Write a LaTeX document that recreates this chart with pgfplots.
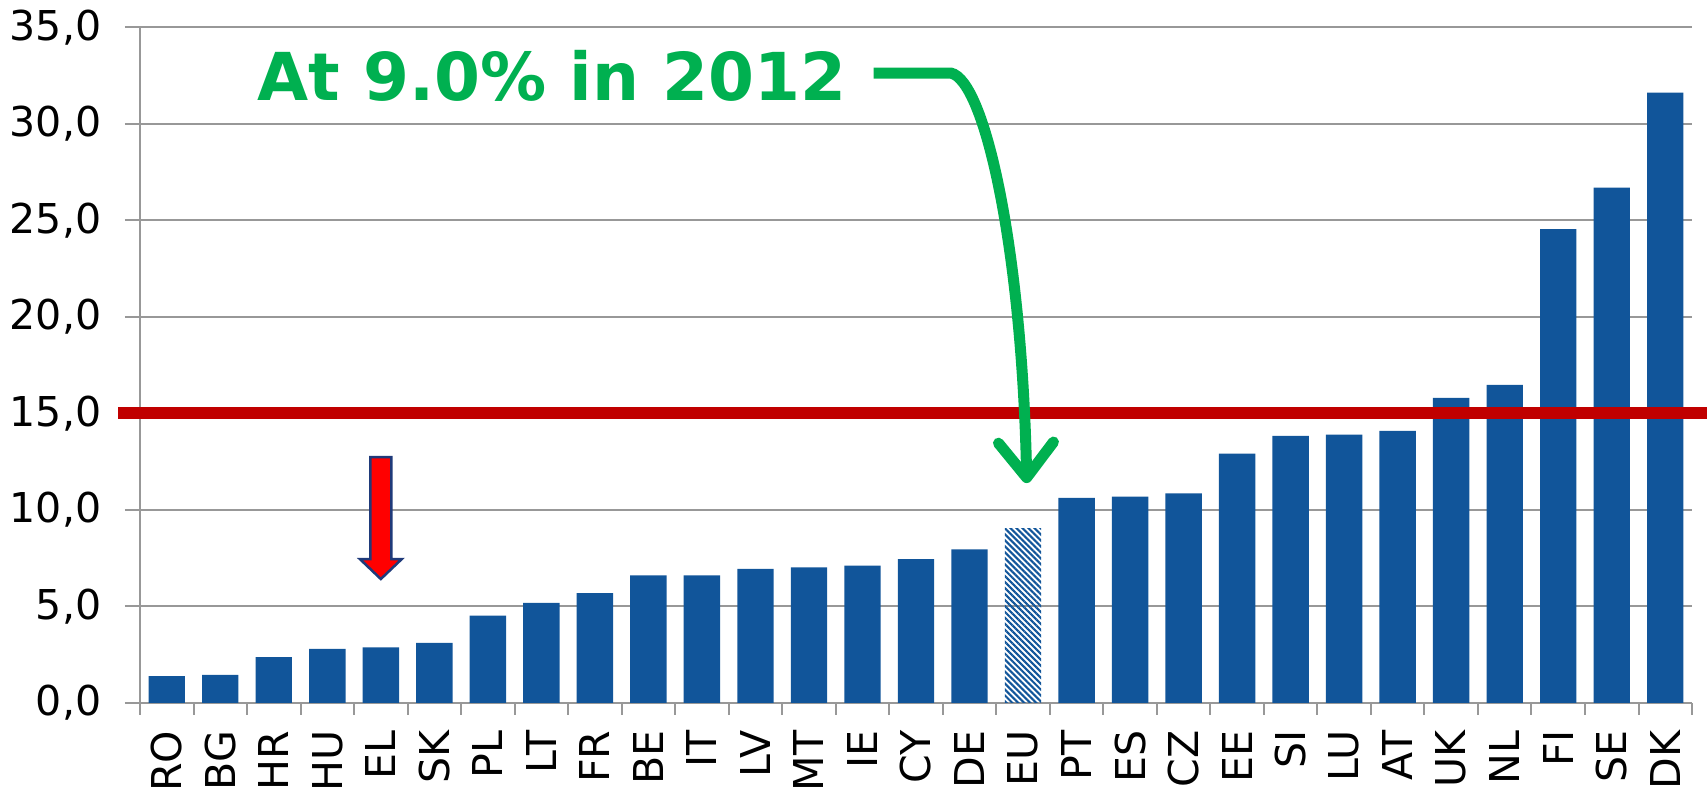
\documentclass[border=0pt]{standalone}
\usepackage{fontspec}
\setmainfont{DejaVu Sans}
\usepackage{pgfplots}
\pgfplotsset{compat=1.18}
\usetikzlibrary{patterns.meta,arrows.meta}

\definecolor{barblue}{HTML}{11559A}
\definecolor{gridgray}{HTML}{989898}
\definecolor{limitred}{HTML}{C00000}
\definecolor{notegreen}{HTML}{00B050}
\definecolor{edgeblue}{HTML}{1F3A7A}

\begin{document}
\begin{tikzpicture}
\begin{axis}[
    scale only axis,
    width=155.2mm, height=67.57mm,
    xmin=-0.5, xmax=28.5,
    ymin=0, ymax=35,
    clip=false,
    axis lines=left,
    axis line style={-, gridgray, line width=0.2mm},
    ytick={0,5,...,35},
    ymajorgrids=true,
    grid style={gridgray, line width=0.2mm},
    xtick={0,...,28},
    xticklabels={RO,BG,HR,HU,EL,SK,PL,LT,FR,BE,IT,LV,MT,IE,CY,DE,EU,PT,ES,CZ,EE,SI,LU,AT,UK,NL,FI,SE,DK},
    minor xtick={-0.5,0.5,...,28.5},
    tick align=outside,
    major x tick style={draw=none},
    major tick length=1.5mm,
    minor tick length=1.2mm,
    tick style={gridgray, line width=0.2mm},
    tick label style={font=\fontsize{11.7}{14}\selectfont, black},
    xticklabel style={rotate=90, anchor=east, inner sep=0pt, xshift=-1.2mm},
    yticklabel style={anchor=east, inner sep=0pt, xshift=-2.3mm},
    /pgf/number format/.cd, fixed, fixed zerofill, precision=1, use comma, assume math mode=true,
]
% countries
\addplot[ybar, bar width=0.68, bar shift=0pt, fill=barblue, draw=none]
    coordinates {
    (0,1.39)(1,1.46)(2,2.38)(3,2.80)(4,2.88)(5,3.11)(6,4.53)(7,5.19)
    (8,5.69)(9,6.61)(10,6.61)(11,6.94)(12,7.03)(13,7.12)(14,7.45)(15,7.95)
    (17,10.63)(18,10.69)(19,10.86)(20,12.92)(21,13.83)(22,13.90)(23,14.10)
    (24,15.81)(25,16.48)(26,24.55)(27,26.70)(28,31.61)
    };
% EU average, hatched
\addplot[ybar, bar width=0.68, bar shift=0pt, draw=none,
    pattern={Lines[angle=-45, distance=1.2pt, line width=0.6pt]}, pattern color=barblue]
    coordinates {(16,9.06)};
% 15% line
\addplot[limitred, line width=1.2mm] coordinates {(-0.91,15)(28.8,15)};

% annotations
\draw[fill=red, draw=edgeblue, line width=0.25mm]
    (3.804,12.73) -- (4.196,12.73) -- (4.196,7.45) -- (4.39,7.45)
    -- (4,6.42) -- (3.61,7.45) -- (3.804,7.45) -- cycle;
\draw[notegreen, line width=1.1mm, -{Straight Barb[length=3.5mm, width=5.5mm, round]}]
    (13.21,32.63) -- (14.65,32.63) .. controls (15.29,32.26) and (15.98,23.46) .. (16.07,11.39);
\node[notegreen, font=\fontsize{18.8}{22}\selectfont\bfseries, anchor=base]
    at (7.20,31.23) {At 9.0\% in 2012};
\end{axis}
\pgfresetboundingbox
\path[use as bounding box] ([xshift=-14mm,yshift=-8.5mm]current axis.south west)
    rectangle ([xshift=1.5mm,yshift=2.73mm]current axis.north east);
\end{tikzpicture}
\end{document}
